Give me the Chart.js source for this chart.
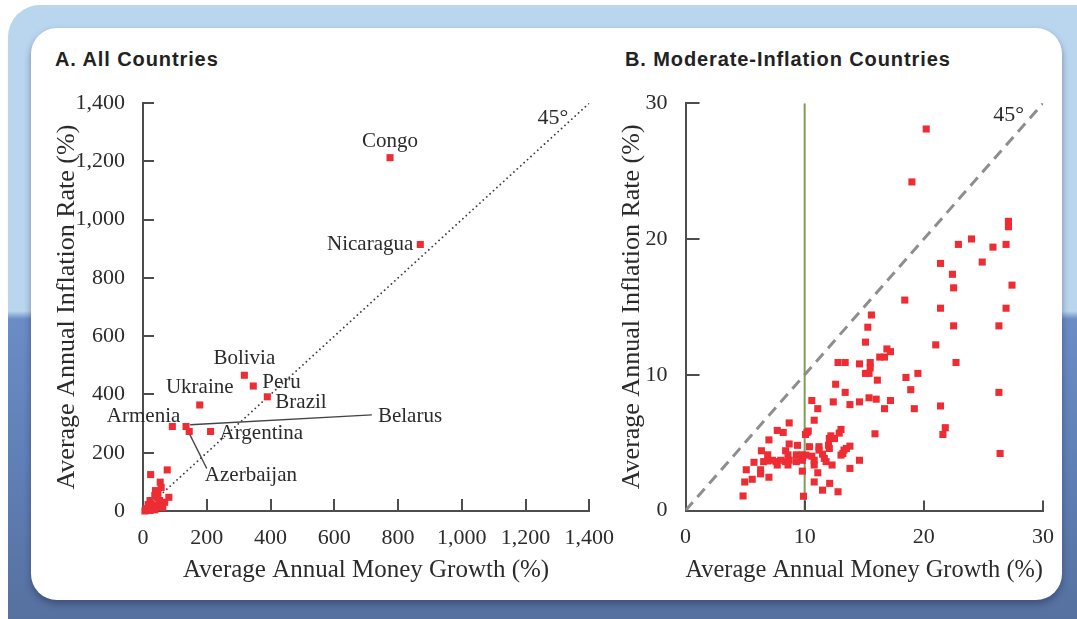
<!DOCTYPE html>
<html><head><meta charset="utf-8">
<script src="https://cdn.jsdelivr.net/npm/chart.js@4.4.1/dist/chart.umd.min.js"></script>
<style>
html,body{margin:0;padding:0;width:1077px;height:619px;overflow:hidden;background:#fff;}
#frame{position:absolute;left:8px;top:5px;width:1069px;height:614px;border-top-left-radius:32px;
 background:linear-gradient(to bottom,#bad6ef 0px,#bad6ef 306px,#6b8cc4 314px,#5f7fb7 460px,#56719f 614px);}
#card{position:absolute;left:31px;top:28px;width:1031px;height:572px;background:#fff;border-radius:26px;box-shadow:0 4px 7px rgba(30,40,70,0.45);}
.ptitle{position:absolute;font-family:"Liberation Sans",Arial,sans-serif;font-weight:bold;font-size:20px;color:#222;letter-spacing:0.9px;}
#ca{position:absolute;left:40px;top:80px;}
#cb{position:absolute;left:600px;top:80px;}
</style></head>
<body>
<div id="frame"></div>
<div id="card"></div>
<div class="ptitle" style="left:55px;top:48px;">A. All Countries</div>
<div class="ptitle" style="left:625px;top:48px;">B. Moderate-Inflation Countries</div>
<canvas id="ca" width="580" height="520"></canvas>
<canvas id="cb" width="460" height="520"></canvas>
<script>
// ---------- Data ----------
const axisTicksA = [0, 200, 400, 600, 800, 1000, 1200, 1400];
const axisTicksB = [0, 10, 20, 30];

const labeledCountries = ['Congo','Nicaragua','Bolivia','Peru','Ukraine','Brazil','Armenia','Belarus','Azerbaijan','Argentina'];
const labeledGrowth    = [775, 870, 318, 346, 178, 390, 92, 135, 145, 212];
const labeledInflation = [1213, 915, 466, 429, 364, 392, 290, 290, 273, 273];

const otherGrowthA    = [24, 76, 54, 57, 39, 47, 81, 37, 52, 22, 32, 68, 11, 6, 22, 47, 37, 16, 62, 44];
const otherInflationA = [125, 141, 99, 81, 70, 61, 47, 53, 36, 36, 19, 30, 8, 0, 2, 13, 4, 22, 12, 44];

const growthB = [20.2,19.0,27.1,27.1,24.0,22.9,25.8,26.9,21.4,24.9,22.4,22.5,27.4,18.4,21.4,26.9,15.6,15.3,22.5,26.3,
 15.1,21.0,16.9,17.2,16.3,16.7,22.7,12.8,13.4,14.6,15.5,15.5,15.1,15.4,19.5,16.1,18.5,12.6,13.4,18.9,
 26.3,10.6,12.4,13.8,14.6,15.4,16.0,17.2,21.4,11.1,16.7,19.2,10.8,8.7,21.8,21.6,26.4,7.7,8.2,10.07,
 10.2,10.3,13.05,12.9,12.2,12.07,12.5,15.9,7.0,8.7,9.4,10.4,11.2,12.0,12.07,13.8,13.3,13.5,13.2,13.05,
 6.37,6.9,8.4,8.6,9.3,9.8,9.84,10.1,10.6,11.2,11.5,11.65,11.8,10.8,5.75,6.56,6.9,7.3,7.6,8.0,
 8.4,8.7,9.3,9.8,7.7,8.6,10.8,12.3,14.6,5.1,6.3,6.3,7.0,5.6,4.97,9.8,11.1,13.8,10.8,12.1,
 11.5,12.8,4.83,9.9];
const inflationB = [28.1,24.2,21.3,20.9,20.0,19.6,19.4,19.6,18.2,18.3,17.4,16.4,16.6,15.5,14.9,14.9,14.4,13.5,13.6,13.6,
 12.4,12.2,11.9,11.7,11.3,11.3,10.9,10.9,10.9,10.8,10.9,10.5,10.1,10.1,10.1,9.6,9.8,9.3,8.7,8.9,
 8.7,8.1,8.0,7.8,8.0,8.3,8.2,8.1,7.7,7.5,7.5,7.5,6.65,6.45,6.1,5.6,4.2,5.9,5.75,5.6,
 5.75,5.85,5.97,5.7,5.5,5.3,5.3,5.65,5.2,4.9,4.8,4.7,4.7,4.8,4.57,4.74,4.45,4.57,4.2,4.08,
 4.4,4.1,4.4,4.1,4.1,4.1,3.95,4.08,4.0,4.45,4.15,3.84,3.6,3.7,3.55,3.6,3.65,3.7,3.6,3.7,
 3.6,3.7,3.6,3.7,3.35,3.35,3.35,3.35,3.7,3.0,3.0,2.7,2.45,2.3,2.1,2.9,2.78,3.1,2.1,2.0,
 1.5,1.38,1.07,1.05];

// ---------- Styles ----------
const SERIF = '"Liberation Serif","Times New Roman",serif';
const TXT = '#2b2b2b';
const AX = '#4d4d4d';
const RED = '#ee2c34';

const fmt = v => Number(v).toLocaleString('en-US');

const inwardTicks = {
  id: 'inwardTicks',
  afterDraw(chart, args, o) {
    const ctx = chart.ctx, xs = chart.scales.x, ys = chart.scales.y;
    ctx.save(); ctx.strokeStyle = AX; ctx.lineWidth = 2;
    xs.ticks.forEach(t => { const p = Math.round(xs.getPixelForValue(t.value)); if (p <= xs.left + 1) return;
      ctx.beginPath(); ctx.moveTo(p, ys.bottom); ctx.lineTo(p, ys.bottom - o.xLen); ctx.stroke(); });
    ys.ticks.forEach(t => { const p = Math.round(ys.getPixelForValue(t.value)); if (p >= ys.bottom - 1) return;
      ctx.beginPath(); ctx.moveTo(xs.left, p); ctx.lineTo(xs.left + o.yLen, p); ctx.stroke(); });
    ctx.restore();
  }
};

const annot = {
  id: 'annot',
  afterDatasetsDraw(chart, args, o) {
    const ctx = chart.ctx, xs = chart.scales.x, ys = chart.scales.y;
    ctx.save();
    (o.leaders || []).forEach(l => {
      ctx.strokeStyle = '#444'; ctx.lineWidth = 1.4;
      ctx.beginPath();
      ctx.moveTo(xs.getPixelForValue(l.from[0]), ys.getPixelForValue(l.from[1]));
      ctx.lineTo(xs.getPixelForValue(l.to[0]), ys.getPixelForValue(l.to[1]));
      ctx.stroke();
    });
    (o.labels || []).forEach(l => {
      ctx.font = (l.size || 21) + 'px ' + SERIF;
      ctx.fillStyle = TXT; ctx.textAlign = l.align; ctx.textBaseline = 'middle';
      ctx.fillText(l.text, xs.getPixelForValue(l.x) + (l.dx || 0), ys.getPixelForValue(l.y) + (l.dy || 0));
    });
    ctx.restore();
  }
};

function scaleOpts(min, max, step, title, fitH, fitW, isX, titlePad) {
  const o = {
    type: 'linear', min, max,
    ticks: { stepSize: step, autoSkip: false, maxRotation: 0, color: TXT,
             font: { family: SERIF, size: 22 }, padding: isX ? 6 : 10, callback: v => fmt(v) },
    grid: { display: false },
    border: { display: true, color: AX, width: 2 },
    title: { display: true, text: title, color: TXT, font: { family: SERIF, size: isX ? 25 : 26 },
             padding: isX ? { top: 0, bottom: titlePad } : { top: titlePad, bottom: 0 } }
  };
  if (isX) o.afterFit = s => { s.height = fitH; };
  else o.afterFit = s => { s.width = fitW; };
  return o;
}

const baseOpts = { responsive: false, animation: false, events: [],
  plugins: { legend: { display: false }, tooltip: { enabled: false } } };

// ---------- Panel A ----------
const ptsA = labeledGrowth.map((x, i) => ({ x, y: labeledInflation[i] }))
  .concat(otherGrowthA.map((x, i) => ({ x, y: otherInflationA[i] })));
const idx = n => labeledCountries.indexOf(n);
const near = (n, align, dx, dy) => ({ text: n, x: labeledGrowth[idx(n)], y: labeledInflation[idx(n)], align, dx, dy });

new Chart(document.getElementById('ca'), {
  type: 'scatter',
  data: { datasets: [
    { data: ptsA, backgroundColor: RED, pointStyle: 'rect', pointRadius: 5, borderWidth: 0, order: 0, clip: false },
    { data: [{ x: axisTicksA[0], y: axisTicksA[0] }, { x: axisTicksA[7], y: axisTicksA[7] }], showLine: true,
      borderColor: '#3a3a3a', borderWidth: 1.8, borderDash: [0.01, 4.6], borderCapStyle: 'round',
      pointRadius: 0, order: 1 }
  ] },
  options: Object.assign({}, baseOpts, {
    layout: { padding: { left: 0, top: 22, right: 23, bottom: 0 } },
    scales: {
      x: scaleOpts(0, 1400, 200, 'Average Annual Money Growth (%)', 89, 0, true, 15),
      y: scaleOpts(0, 1400, 200, 'Average Annual Inflation Rate (%)', 0, 103, false, 12)
    },
    plugins: Object.assign({}, baseOpts.plugins, {
      inwardTicks: { xLen: 12, yLen: 11 },
      annot: {
        leaders: [
          { from: [148, 296], to: [718, 330] },
          { from: [147, 262], to: [200, 146] }
        ],
        labels: [
          near('Congo', 'center', 0, -16),
          near('Nicaragua', 'right', -7, 0),
          near('Bolivia', 'center', 0, -17),
          near('Peru', 'left', 9, -4),
          near('Ukraine', 'center', 0, -17),
          near('Brazil', 'left', 8, 6),
          near('Armenia', 'right', 8, -10),
          { text: 'Belarus', x: 737, y: 323, align: 'left' },
          { text: 'Azerbaijan', x: 194, y: 121, align: 'left' },
          near('Argentina', 'left', 9, 2),
          { text: '45°', x: 1334, y: 1347, align: 'right', size: 22 }
        ]
      }
    })
  }),
  plugins: [inwardTicks, annot]
});

// ---------- Panel B ----------
const ptsB = growthB.map((x, i) => ({ x, y: inflationB[i] }));
new Chart(document.getElementById('cb'), {
  type: 'scatter',
  data: { datasets: [
    { data: ptsB, backgroundColor: RED, pointStyle: 'rect', pointRadius: 5, borderWidth: 0, order: 0, clip: false },
    { data: [{ x: 10, y: axisTicksB[0] }, { x: 10, y: axisTicksB[3] }], showLine: true,
      borderColor: '#7f9e57', borderWidth: 2, pointRadius: 0, order: 2 },
    { data: [{ x: axisTicksB[0], y: axisTicksB[0] }, { x: axisTicksB[3], y: axisTicksB[3] }], showLine: true,
      borderColor: '#8e8e8e', borderWidth: 3, borderDash: [11, 7], pointRadius: 0, order: 1 }
  ] },
  options: Object.assign({}, baseOpts, {
    layout: { padding: { left: 0, top: 22, right: 15, bottom: 0 } },
    scales: {
      x: scaleOpts(0, 30, 10, 'Average Annual Money Growth (%)', 89.5, 0, true, 15),
      y: scaleOpts(0, 30, 10, 'Average Annual Inflation Rate (%)', 0, 85.5, false, 17)
    },
    plugins: Object.assign({}, baseOpts.plugins, {
      inwardTicks: { xLen: 10, yLen: 14 },
      annot: { labels: [ { text: '45°', x: 28.4, y: 29.1, align: 'right', size: 22 } ] }
    })
  }),
  plugins: [inwardTicks, annot]
});
</script>
</body></html>
